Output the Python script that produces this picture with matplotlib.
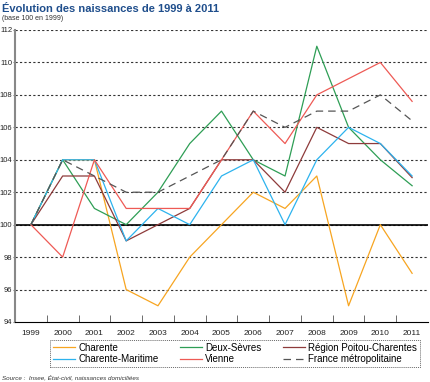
import numpy as np
import matplotlib.pyplot as plt

years = [1999, 2000, 2001, 2002, 2003, 2004, 2005, 2006, 2007, 2008, 2009, 2010, 2011]

charente = [100, 104, 104, 96, 95, 98, 100, 102, 101, 103, 95, 100, 97]
charente_maritime = [100, 104, 104, 99, 101, 100, 103, 104, 100, 104, 106, 105, 103]
deux_sevres = [100, 104, 101, 100, 102, 105, 107, 104, 103, 111, 106, 104, 102.4]
vienne = [100, 98, 104, 101, 101, 101, 104, 107, 105, 108, 109, 110, 107.6]
region = [100, 103, 103, 99, 100, 101, 104, 104, 102, 106, 105, 105, 102.9]
france = [100, 104, 103, 102, 102, 103, 104, 107, 106, 107, 107, 108, 106.4]

plt.rcParams['font.family'] = ['Liberation Sans', 'DejaVu Sans']

fig = plt.figure(figsize=(4.3, 3.82), dpi=100)
ax = fig.add_axes([15 / 430, 60 / 382, 413 / 430, 292 / 382])

x = np.arange(len(years))

# gridlines
for yv in range(96, 113, 2):
    ax.axhline(yv, color='#333333', lw=0.8, ls=(0, (2, 2)), zorder=0)
ax.axhline(100, color='black', lw=1.2, zorder=1)

ax.plot(x, charente, color='#F7A521', lw=0.9, label='Charente')
ax.plot(x, deux_sevres, color='#2E9E55', lw=0.9, label='Deux-Sèvres')
ax.plot(x, region, color='#8E3B3B', lw=0.9, label='Région Poitou-Charentes')
ax.plot(x, charente_maritime, color='#2DB3EE', lw=0.9, label='Charente-Maritime')
ax.plot(x, vienne, color='#EE5A55', lw=0.9, label='Vienne')
ax.plot(x, france, color='#555555', lw=0.9, ls=(0, (6, 4)), label='France métropolitaine')

ax.set_xlim(-0.5, len(years) - 0.5)
ax.set_ylim(94, 112)
ax.set_yticks(range(94, 113, 2))
ax.set_xticks(x)
ax.set_xticklabels(years)
ax.set_xticks(x[:-1] + 0.5, minor=True)
ax.tick_params(axis='x', which='major', length=0, labelsize=6, pad=6, labelcolor='#222222')
ax.tick_params(axis='x', which='minor', length=5, direction='in', color='#555555')
ax.tick_params(axis='y', length=1.5, labelsize=5.5, pad=0.5, color='#777777', labelcolor='#222222')

for s in ['top', 'right']:
    ax.spines[s].set_visible(False)
ax.spines['left'].set_color('#888888')
ax.spines['left'].set_linestyle((0, (1, 1)))
ax.spines['left'].set_linewidth(1.5)
ax.spines['bottom'].set_color('black')

handles, labels = ax.get_legend_handles_labels()
order = [0, 3, 1, 4, 2, 5]
leg = fig.legend([handles[i] for i in order], [labels[i] for i in order],
                 ncol=3, loc='upper left', bbox_to_anchor=(45 / 430, 1 - 335 / 382),
                 fontsize=7, frameon=True, fancybox=False, handlelength=2.3,
                 handletextpad=0.3, columnspacing=2.2, borderpad=0.3, labelspacing=0.15)
leg.get_frame().set_edgecolor('#444444')
leg.get_frame().set_linewidth(0.7)
leg.get_frame().set_linestyle((0, (1, 1)))

fig.text(2 / 430, 1 - 9 / 382, 'Évolution des naissances de 1999 à 2011', fontsize=8,
         fontweight='bold', color='#1F4E8C', va='center')
fig.text(2 / 430, 1 - 19 / 382, '(base 100 en 1999)', fontsize=5, color='#333333', va='center')
fig.text(2 / 430, 1 - 377 / 382, 'Source :  Insee, État-civil, naissances domiciliées', fontsize=4.5,
         style='italic', color='#333333', va='center')

fig.savefig('out.png', dpi=100)
